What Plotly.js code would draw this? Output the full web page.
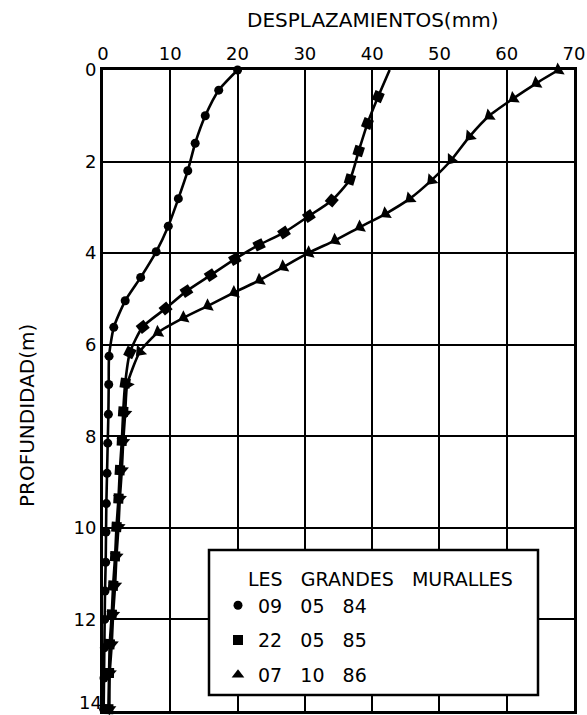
<!DOCTYPE html>
<html>
<head>
<meta charset="utf-8">
<script src="https://cdn.plot.ly/plotly-3.0.1.min.js"></script>
<style>html,body{margin:0;padding:0;background:#fff;}#chart{width:587px;height:715px;}</style>
</head>
<body>
<div id="chart"></div>
<script>
// Series names
const NB = "\u00a0\u00a0\u00a0";
const seriesNames = ["09" + NB + "05" + NB + "84", "22" + NB + "05" + NB + "85", "07" + NB + "10" + NB + "86"];
const legendTitle = "LES" + NB + "GRANDES" + NB + "MURALLES";

// 09 05 84 (circles)
const depth1 = [0, 0.44, 1.0, 1.6, 2.2, 2.81, 3.41, 3.97, 4.53, 5.04, 5.62, 6.25, 6.87, 7.52, 8.15, 8.81, 9.47, 10.09, 10.75, 11.38, 12.0, 12.62, 13.28, 13.96];
const disp1  = [20.0, 17.2, 15.2, 13.7, 12.6, 11.2, 9.7, 7.9, 5.6, 3.3, 1.6, 0.9, 0.85, 0.8, 0.7, 0.6, 0.5, 0.45, 0.4, 0.3, 0.25, 0.2, 0.15, 0.1];

// 22 05 85 (squares)
const depth2 = [0, 0.58, 1.17, 1.77, 2.39, 2.85, 3.19, 3.55, 3.82, 4.13, 4.48, 4.83, 5.21, 5.61, 6.17, 6.84, 7.46, 8.1, 8.74, 9.36, 9.98, 10.62, 11.26, 11.89, 12.54, 13.17, 13.96];
const disp2  = [42.6, 40.9, 39.3, 38.0, 36.7, 34.0, 30.6, 26.9, 23.2, 19.6, 16.0, 12.4, 9.3, 5.9, 4.0, 3.3, 3.0, 2.8, 2.5, 2.3, 2.0, 1.8, 1.5, 1.3, 1.0, 0.9, 0.8];

// 07 10 86 (triangles)
const depth3 = [0, 0.29, 0.62, 1.0, 1.45, 1.96, 2.41, 2.81, 3.14, 3.43, 3.72, 3.99, 4.3, 4.59, 4.86, 5.15, 5.41, 5.73, 6.15, 6.87, 7.5, 8.12, 8.74, 9.36, 9.98, 10.62, 11.26, 11.89, 12.54, 13.17, 13.96];
const disp3  = [67.7, 64.4, 61.0, 57.4, 54.5, 51.8, 48.8, 45.6, 42.0, 38.2, 34.5, 30.6, 26.8, 23.3, 19.5, 15.6, 12.0, 8.2, 5.5, 3.6, 3.3, 3.0, 2.8, 2.5, 2.3, 2.0, 1.8, 1.5, 1.3, 1.0, 0.95];

const xTicks = [0, 10, 20, 30, 40, 50, 60, 70];
const yTicks = [0, 2, 4, 6, 8, 10, 12];
const yTicksBottom = [14];

const FONT = "DejaVu Sans, sans-serif";
const W = 587, H = 715;
const M = {l: 103, r: 13, t: 70, b: 4};
const PW = W - M.l - M.r, PH = H - M.t - M.b;
const px2x = p => (p - M.l) / PW;          // page px -> paper x
const px2y = p => (H - M.b - p) / PH;      // page px -> paper y

const line = {color: "#000", width: 2.6, shape: "spline", smoothing: 0.6};
const mline = {color: "#000", width: 0};

const sqSize = disp2.map((v, i) => i === 0 ? 0 : 10);

const traces = [
  // curves
  {x: disp1, y: depth1, mode: "lines", line: line, showlegend: false, cliponaxis: false, hoverinfo: "skip"},
  {x: disp2, y: depth2, mode: "lines", line: line, showlegend: false, cliponaxis: false, hoverinfo: "skip"},
  {x: disp3, y: depth3, mode: "lines", line: line, showlegend: false, cliponaxis: false, hoverinfo: "skip"},
  // measurement markers
  {x: disp1, y: depth1, mode: "markers", showlegend: false, cliponaxis: false,
   marker: {symbol: "circle", size: 9, color: "#000", line: mline, opacity: 1}},
  {x: disp2, y: depth2, mode: "markers", showlegend: false, cliponaxis: false,
   marker: {symbol: "square", size: sqSize, color: "#000", line: mline, opacity: 1}},
  {x: disp3, y: depth3, mode: "markers", showlegend: false, cliponaxis: false,
   marker: {symbol: "triangle-up", size: 12, color: "#000", line: mline, opacity: 1}},
  // legend entries (upright symbols, no data drawn)
  {x: [null], y: [null], yaxis: "y2", name: seriesNames[0], legendgroup: "a", mode: "markers",
   marker: {symbol: "circle", size: 9, color: "#000", line: mline, opacity: 1}},
  {x: [null], y: [null], yaxis: "y2", name: seriesNames[1], legendgroup: "b", mode: "markers",
   marker: {symbol: "square", size: 10, color: "#000", line: mline, opacity: 1}},
  {x: [null], y: [null], yaxis: "y2", name: seriesNames[2], legendgroup: "c", mode: "markers",
   marker: {symbol: "triangle-up", size: 11, color: "#000", line: mline, opacity: 1}}
];

const axisCommon = {
  showgrid: true, gridcolor: "#000", gridwidth: 2,
  showline: true, linecolor: "#000", linewidth: 3, mirror: true,
  zeroline: false, ticks: "", ticklabeloverflow: "allow",
  tickfont: {family: FONT, size: 18, color: "#000"}
};

const layout = {
  width: W, height: H,
  margin: M,
  paper_bgcolor: "#fff", plot_bgcolor: "#fff",
  font: {family: FONT, color: "#000"},
  showlegend: true,
  xaxis: Object.assign({}, axisCommon, {side: "top", range: [0, 70], tickvals: xTicks, ticklabelstandoff: 0}),
  yaxis: Object.assign({}, axisCommon, {range: [14, 0], tickvals: yTicks, ticklabelstandoff: 0}),
  // carries only the bottom depth label, lifted so it stays inside the picture
  yaxis2: {overlaying: "y", anchor: "x", side: "left", range: [14, 0], tickvals: yTicksBottom,
           showgrid: false, showline: false, zeroline: false, ticks: "",
           ticklabelposition: "outside top", ticklabelshift: -4, ticklabeloverflow: "allow",
           tickfont: {family: FONT, size: 18, color: "#000"}},
  legend: {
    x: px2x(218), y: px2y(586.4), xanchor: "left", yanchor: "top",
    bgcolor: "rgba(0,0,0,0)", borderwidth: 0,
    font: {family: FONT, size: 19, color: "#000"},
    traceorder: "grouped", tracegroupgap: 7
  },
  shapes: [{
    type: "rect", xref: "paper", yref: "paper", layer: "above",
    x0: px2x(209), x1: px2x(538), y0: px2y(695), y1: px2y(550),
    line: {color: "#000", width: 2.5}, fillcolor: "#fff"
  }],
  annotations: [
    {text: "DESPLAZAMIENTOS(mm)", xref: "paper", yref: "paper", x: px2x(372), y: px2y(20),
     xanchor: "center", yanchor: "middle", showarrow: false, font: {family: FONT, size: 20, color: "#000"}},
    {text: "PROFUNDIDAD(m)", xref: "paper", yref: "paper", x: px2x(27), y: px2y(416),
     xanchor: "center", yanchor: "middle", textangle: -90, showarrow: false, font: {family: FONT, size: 20, color: "#000"}},
    {text: legendTitle, xref: "paper", yref: "paper", x: px2x(246), y: px2y(579),
     xanchor: "left", yanchor: "middle", showarrow: false, font: {family: FONT, size: 19, color: "#000"}}
  ]
};

const gd = document.getElementById("chart");
Plotly.newPlot(gd, traces, layout, {displayModeBar: false, staticPlot: true}).then(function () {
  // orient square and triangle markers along the curve (pixel space)
  const xa = gd._fullLayout.xaxis, ya = gd._fullLayout.yaxis;
  function angles(xs, ys) {
    const px = xs.map(v => xa.l2p(v)), py = ys.map(v => ya.l2p(v));
    return px.map((p, i) => {
      const j0 = i === 0 ? 0 : i - 1, j1 = i === 0 ? 1 : i;
      const dx = px[j1] - px[j0], dy = py[j1] - py[j0];
      return Math.atan2(dx, -dy) * 180 / Math.PI;
    });
  }
  return Plotly.restyle(gd, {"marker.angle": [angles(disp2, depth2), angles(disp3, depth3)]}, [4, 5]);
});
</script>
</body>
</html>
